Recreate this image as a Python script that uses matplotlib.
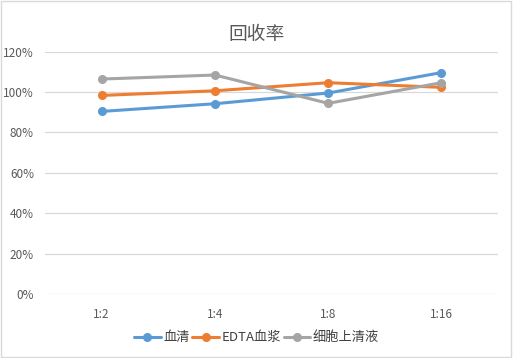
import matplotlib
matplotlib.use("Agg")
import matplotlib.pyplot as plt
from matplotlib.ticker import FuncFormatter
from matplotlib.patches import Rectangle

plt.rcParams['font.family'] = ['Noto Sans CJK SC', 'DejaVu Sans']

categories = ["1:2", "1:4", "1:8", "1:16"]
serum = [0.904, 0.942, 0.995, 1.096]
edta_plasma = [0.983, 1.006, 1.046, 1.023]
cell_supernatant = [1.064, 1.084, 0.944, 1.046]
series_names = ["血清", "EDTA血浆", "细胞上清液"]
colors = ["#5B9BD5", "#ED7D31", "#A5A5A5"]

fig = plt.figure(figsize=(5.13, 3.58), dpi=100)
ax = fig.add_axes([0.0877, 0.178, 0.971 - 0.0877, 0.856 - 0.178])

x = list(range(len(categories)))
for vals, name, c in zip([serum, edta_plasma, cell_supernatant], series_names, colors):
    ax.plot(x, vals, color=c, lw=2.2, marker='o', ms=5.5, label=name,
            solid_capstyle='round')

ax.set_xlim(-0.5, len(categories) - 0.5)
ax.set_ylim(0, 1.2)
ax.set_yticks([0, 0.2, 0.4, 0.6, 0.8, 1.0, 1.2])
ax.yaxis.set_major_formatter(FuncFormatter(lambda v, p: f"{v*100:.0f}%"))
ax.set_xticks(x)
ax.set_xticklabels(categories)
ax.grid(axis='y', color='#D9D9D9', lw=0.9)
ax.set_axisbelow(True)
for s in ax.spines.values():
    s.set_visible(False)
ax.tick_params(axis='both', length=0, labelsize=8.5, labelcolor='#595959')
ax.tick_params(axis='x', pad=10)
ax.tick_params(axis='y', pad=8)

fig.text(0.5, 0.905, "回收率", ha='center', va='center', fontsize=13.5,
         color='#595959', fontweight='light')

leg = fig.legend(loc='center', bbox_to_anchor=(0.5, 0.056), ncol=3, frameon=False,
                 fontsize=9.5, handlelength=2.0, handletextpad=0.2, columnspacing=0.2,
                 labelcolor='#404040')

fig.patches.append(Rectangle((0.002, 0.003), 0.995, 0.994, transform=fig.transFigure,
                             fill=False, edgecolor='#D9D9D9', lw=1))

fig.savefig("out.png", dpi=100)
